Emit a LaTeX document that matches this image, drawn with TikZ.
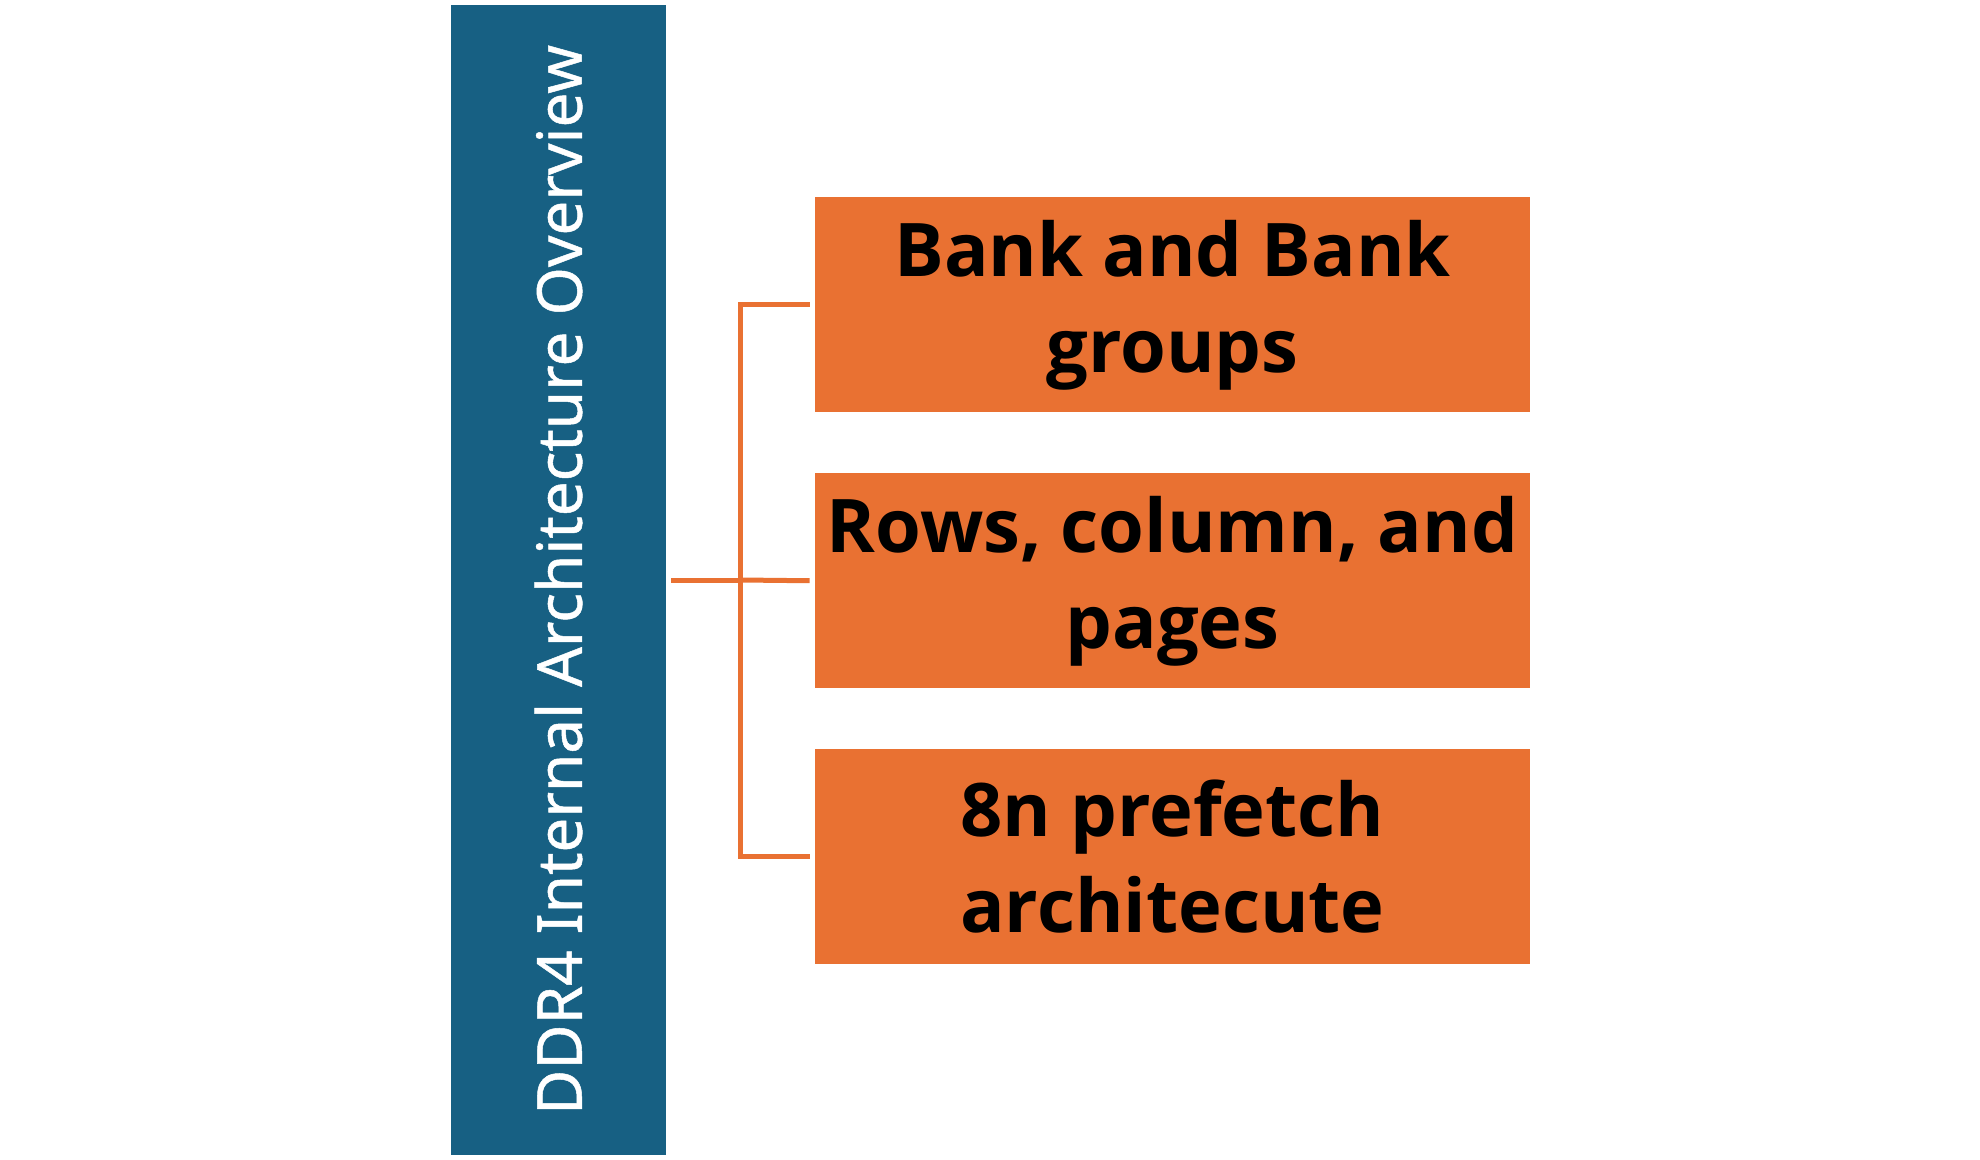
\documentclass[tikz,border=0pt]{standalone}
\usepackage{fontspec}
\setmainfont{Open Sans}
\newfontfamily\barfont[FakeBold=0.8]{Noto Sans}
\usepackage{tikz}
\usetikzlibrary{positioning}
\definecolor{barblue}{HTML}{176083}
\definecolor{boxorange}{HTML}{E97132}

\begin{document}
\begin{tikzpicture}[
  node distance=30pt,
  bar/.style={fill=barblue, text=white, minimum width=107.5pt, minimum height=575pt,
              inner sep=0pt, font=\barfont\fontsize{31}{36}\selectfont},
  topic/.style={fill=boxorange, minimum width=357.5pt, minimum height=107.5pt,
                align=center, inner sep=2pt, font=\fontsize{37}{48}\selectfont\bfseries},
  link/.style={draw=boxorange, line width=2.5pt}]
  \useasboundingbox (0,0) rectangle (990pt,-580pt);
  \node[bar] (overview) at (279.25pt,-290pt) {\rotatebox{90}{DDR4 Internal Architecture Overview}\hspace{9pt}};
  \node[topic] (banks) at (586.25pt,-152.5pt) {Bank and Bank\\groups};
  \node[topic, below=of banks] (rows) {Rows, column, and\\pages};
  \node[topic, below=of rows] (prefetch) {8n prefetch\\architecute};
  \draw[link, shorten <=2.5pt] (overview.east) -- ++(37pt,0) coordinate (fork);
  \draw[link, shorten >=2.5pt] (fork) -- (rows.west);
  \draw[link, shorten <=2.5pt, shorten >=2.5pt] (banks.west) -| (fork) |- (prefetch.west);
\end{tikzpicture}
\end{document}
